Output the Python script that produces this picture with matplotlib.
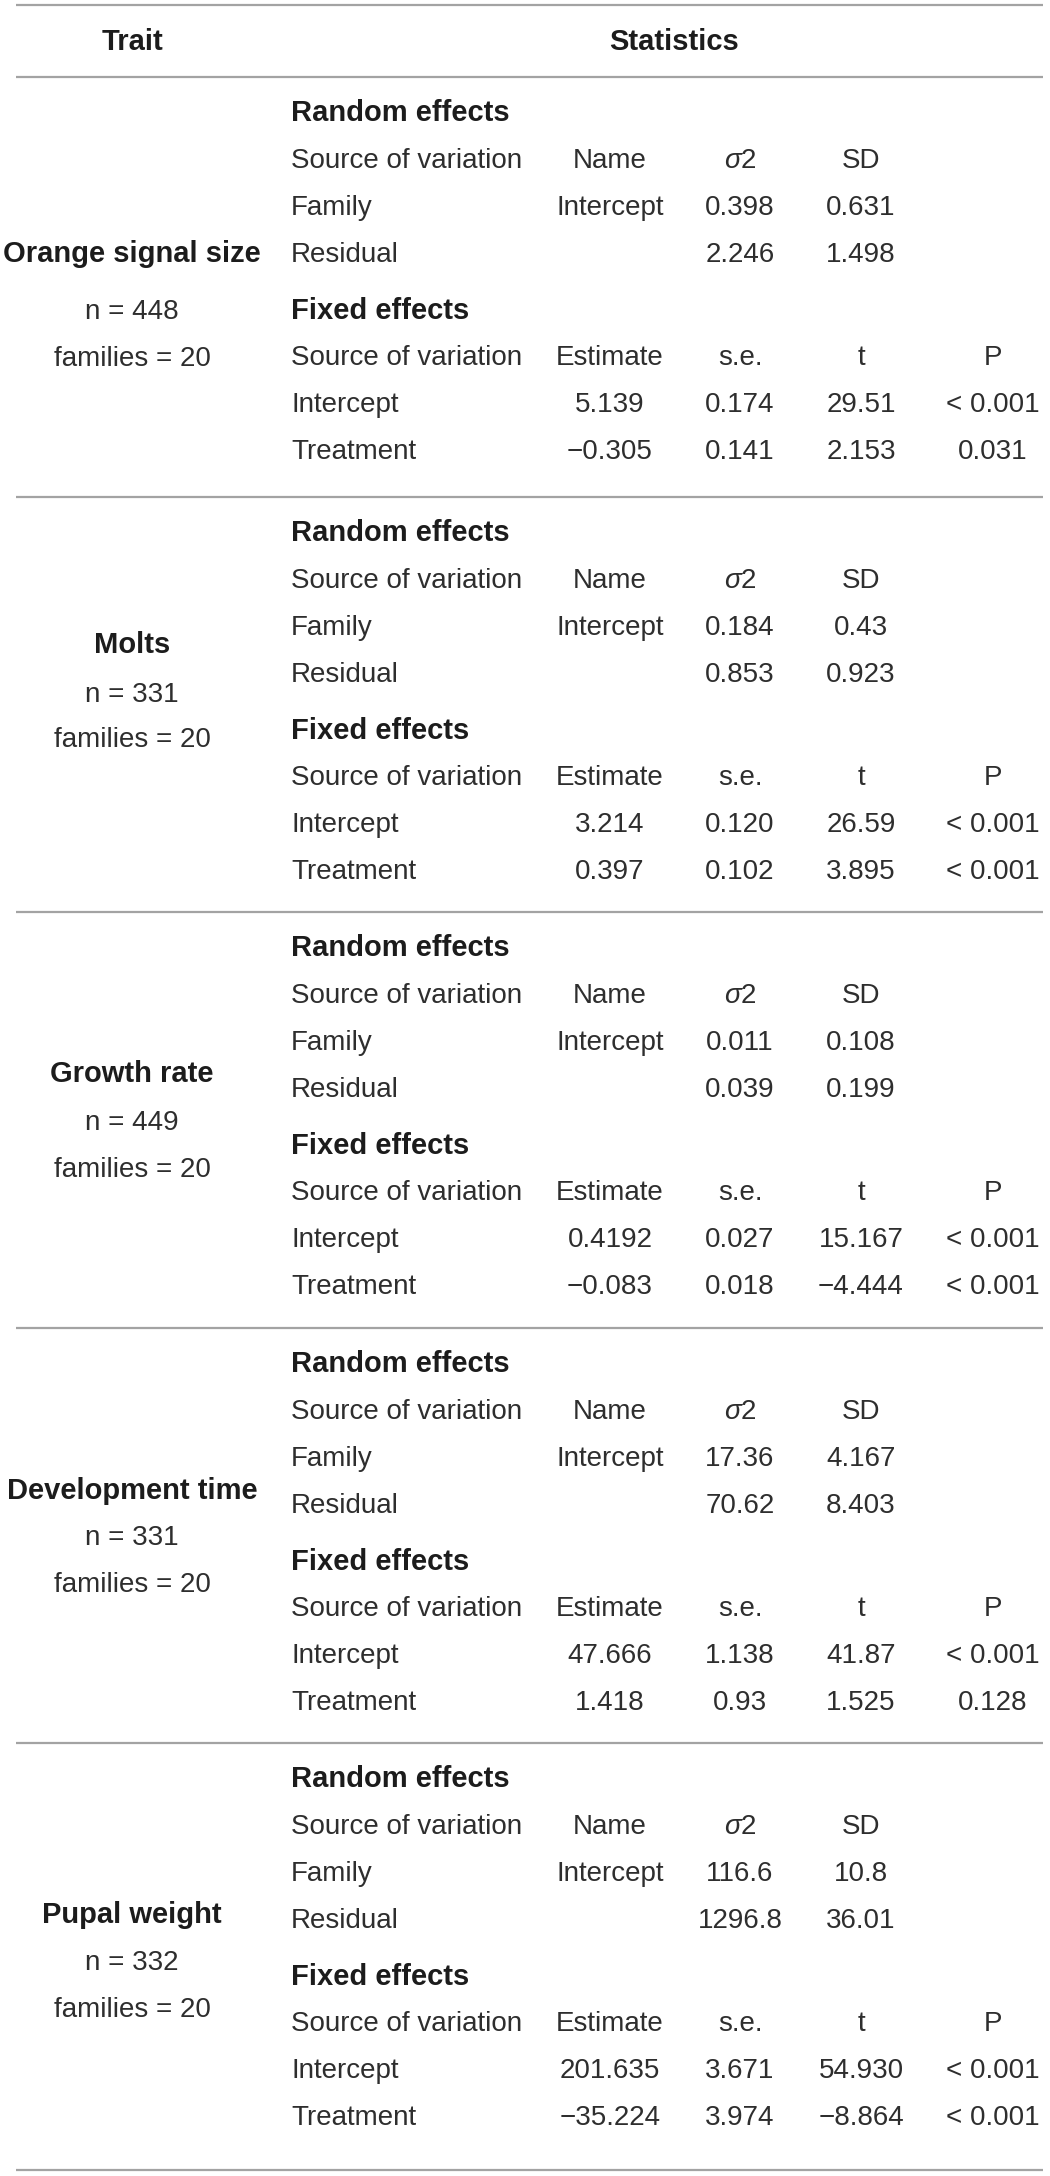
import matplotlib
matplotlib.use("Agg")
import matplotlib.pyplot as plt

plt.rcParams['font.family'] = ['Liberation Sans', 'DejaVu Sans']
plt.rcParams['mathtext.fontset'] = 'custom'
plt.rcParams['mathtext.rm'] = 'Liberation Sans'
plt.rcParams['mathtext.it'] = 'Liberation Sans:italic'

# ---------------- data ----------------
traits = ["Orange signal size", "Molts", "Growth rate", "Development time", "Pupal weight"]
n_obs = [448, 331, 449, 331, 332]
n_families = [20, 20, 20, 20, 20]

random_header = ["Source of variation", "Name", "$\\sigma$2", "SD"]
fixed_header = ["Source of variation", "Estimate", "s.e.", "t", "P"]

family_name = ["Intercept", "Intercept", "Intercept", "Intercept", "Intercept"]
family_var = ["0.398", "0.184", "0.011", "17.36", "116.6"]
family_sd = ["0.631", "0.43", "0.108", "4.167", "10.8"]
resid_var = ["2.246", "0.853", "0.039", "70.62", "1296.8"]
resid_sd = ["1.498", "0.923", "0.199", "8.403", "36.01"]

int_est = ["5.139", "3.214", "0.4192", "47.666", "201.635"]
int_se = ["0.174", "0.120", "0.027", "1.138", "3.671"]
int_t = ["29.51", "26.59", "15.167", "41.87", "54.930"]
int_p = ["< 0.001", "< 0.001", "< 0.001", "< 0.001", "< 0.001"]

trt_est = ["\u22120.305", "0.397", "\u22120.083", "1.418", "\u221235.224"]
trt_se = ["0.141", "0.102", "0.018", "0.93", "3.974"]
trt_t = ["2.153", "3.895", "\u22124.444", "1.525", "\u22128.864"]
trt_p = ["0.031", "< 0.001", "< 0.001", "0.128", "< 0.001"]

# ---------------- layout (pixels) ----------------
W, H = 1050, 2176
fig = plt.figure(figsize=(W / 100, H / 100), dpi=100)
ax = fig.add_axes([0, 0, 1, 1])
ax.set_xlim(0, W)
ax.set_ylim(H, 0)
ax.axis('off')

line_color = '#a3a3a3'
txt = '#2e2e2e'
bold_c = '#1c1c1c'
fs = 20
fs_b = 21

x_left, x_right = 16, 1043
top_line = 5
seps = [77, 497, 912, 1328, 1743, 2170]
for y in [top_line] + seps:
    ax.plot([x_left, x_right], [y, y], color=line_color, lw=1.6, solid_capstyle='butt')

x_trait = 132
x_src = 291
x_cols = [610, 740, 861, 993]

# header
ax.text(x_trait, 42, "Trait", ha='center', va='center', fontsize=fs_b, fontweight='bold', color=bold_c)
ax.text(674, 42, "Statistics", ha='center', va='center', fontsize=fs_b, fontweight='bold', color=bold_c)

row_off = [36, 84, 131, 178, 234, 281, 328, 375]
label_y = [(254, 312, 359), (645, 695, 740), (1074, 1123, 1170),
           (1491, 1538, 1585), (1915, 1963, 2010)]

def put(x, y, s, ha='center', bold=False):
    ax.text(x, y, s, ha=ha, va='center',
            fontsize=fs_b if bold else fs,
            fontweight='bold' if bold else 'normal',
            color=bold_c if bold else txt)

for i in range(len(traits)):
    L = seps[i]
    ys = [L + o for o in row_off]
    ly = label_y[i]
    put(x_trait, ly[0], traits[i], bold=True)
    put(x_trait, ly[1], f"n = {n_obs[i]}")
    put(x_trait, ly[2], f"families = {n_families[i]}")

    put(x_src, ys[0], "Random effects", ha='left', bold=True)
    put(x_src, ys[1], random_header[0], ha='left')
    for j, h in enumerate(random_header[1:]):
        put(x_cols[j], ys[1], h)
    put(x_src, ys[2], "Family", ha='left')
    for j, v in enumerate([family_name[i], family_var[i], family_sd[i]]):
        put(x_cols[j], ys[2], v)
    put(x_src, ys[3], "Residual", ha='left')
    for j, v in enumerate([resid_var[i], resid_sd[i]]):
        put(x_cols[j + 1], ys[3], v)

    put(x_src, ys[4], "Fixed effects", ha='left', bold=True)
    put(x_src, ys[5], fixed_header[0], ha='left')
    for j, h in enumerate(fixed_header[1:]):
        put(x_cols[j], ys[5], h)
    put(x_src, ys[6], "Intercept", ha='left')
    for j, v in enumerate([int_est[i], int_se[i], int_t[i], int_p[i]]):
        put(x_cols[j], ys[6], v)
    put(x_src, ys[7], "Treatment", ha='left')
    for j, v in enumerate([trt_est[i], trt_se[i], trt_t[i], trt_p[i]]):
        put(x_cols[j], ys[7], v)

fig.savefig("out.png", dpi=100, facecolor='white')
